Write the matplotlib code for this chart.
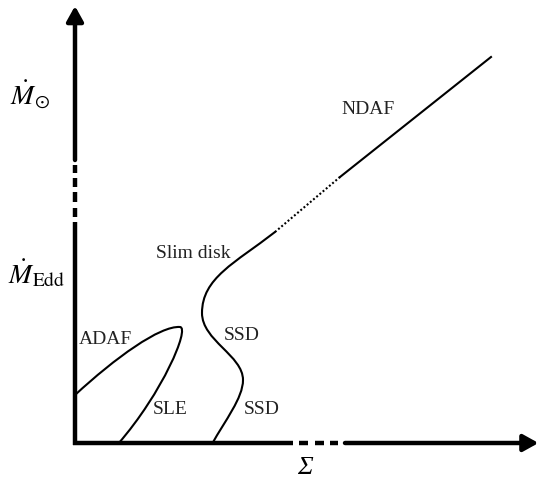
import matplotlib
matplotlib.use("Agg")
import matplotlib.pyplot as plt
from matplotlib.path import Path
from matplotlib.patches import PathPatch

plt.rcParams['mathtext.fontset'] = 'stix'
plt.rcParams['font.family'] = ['Liberation Serif', 'DejaVu Serif']

# --- schematic data (Sigma, Mdot in arbitrary schematic units) ---
# ADAF / SLE branch: cubic Bezier control points
adaf_sle_x = [0.0, 0.8, 1.7, 2.1, 2.3, 1.75, 0.86]
adaf_sle_y = [0.96, 1.7, 2.35, 2.32, 2.3, 1.0, -0.02]
# SSD / slim disk S-curve: cubic Bezier control points
scurve_x = [2.74, 3.0, 3.36, 3.36, 3.36, 2.54, 2.54, 2.54, 3.2, 4.0]
scurve_y = [-0.02, 0.45, 0.9, 1.26, 1.75, 2.05, 2.6, 3.3, 3.6, 4.22]
# high-Mdot straight branch: dotted then solid (NDAF)
dotted_x = [4.0, 5.3]
dotted_y = [4.22, 5.32]
ndaf_x = [5.3, 8.32]
ndaf_y = [5.32, 7.72]

# axis breaks: solid end, dash segments, solid restart
y_solid_end, y_restart = 4.42, 5.66
y_dash_lo = [4.52, 4.82, 5.12, 5.40]
y_dash_hi = [4.70, 5.02, 5.30, 5.56]
x_solid_end, x_restart = 4.36, 5.40
x_dash_lo = [4.48, 4.80, 5.10]
x_dash_hi = [4.66, 4.98, 5.26]
x_max, y_max = 9.27, 8.74

labels = ["ADAF", "SLE", "SSD", "SSD", "Slim disk", "NDAF"]
label_x = [0.6, 1.9, 3.34, 3.74, 2.36, 5.86]
label_y = [2.06, 0.66, 2.16, 0.68, 3.8, 6.66]

fig = plt.figure(figsize=(5.41, 4.84), dpi=100)
ax = fig.add_axes([0, 0, 1, 1])
ax.set_xlim(-1.5, 9.32)
ax.set_ylim(-0.82, 8.86)
ax.axis('off')


def bezier_path(xs, ys):
    verts = list(zip(xs, ys))
    codes = [Path.MOVETO] + [Path.CURVE4] * (len(verts) - 1)
    return Path(verts, codes)


clw = 1.5
ax.add_patch(PathPatch(bezier_path(adaf_sle_x, adaf_sle_y), fill=False,
                       lw=clw, edgecolor='black', capstyle='round'))
ax.add_patch(PathPatch(bezier_path(scurve_x, scurve_y), fill=False,
                       lw=clw, edgecolor='black', capstyle='round'))
ax.plot(dotted_x, dotted_y, color='black', lw=clw,
        linestyle=(0, (1.4 / clw, 1.6 / clw)))
ax.plot(ndaf_x, ndaf_y, color='black', lw=clw)

axlw = 3.2
head = dict(arrowstyle='-|>,head_length=0.45,head_width=0.25',
            mutation_scale=20, lw=axlw, color='black', shrinkA=0, shrinkB=0)
# y axis
ax.plot([0, 0], [-0.04, y_solid_end], color='black', lw=axlw, solid_capstyle='butt')
for lo, hi in zip(y_dash_lo, y_dash_hi):
    ax.plot([0, 0], [lo, hi], color='black', lw=axlw, solid_capstyle='butt')
ax.annotate('', xy=(0, y_max), xytext=(0, y_restart), arrowprops=head)
# x axis
ax.plot([-0.04, x_solid_end], [0, 0], color='black', lw=axlw, solid_capstyle='butt')
for lo, hi in zip(x_dash_lo, x_dash_hi):
    ax.plot([lo, hi], [0, 0], color='black', lw=axlw, solid_capstyle='butt')
ax.annotate('', xy=(x_max, 0), xytext=(x_restart, 0), arrowprops=head)

for t, x, y in zip(labels, label_x, label_y):
    ax.text(x, y, t, fontsize=14, ha='center', va='center', color='#222222')

ax.text(-0.9, 6.96, r'$\dot{M}_{\odot}$', fontsize=20, ha='center', va='center')
ax.text(-0.76, 3.4, r'$\dot{M}_{\mathrm{Edd}}$', fontsize=20, ha='center', va='center')
ax.text(4.6, -0.5, 'Σ', fontsize=19, fontstyle='italic', ha='center', va='center')

fig.savefig('out.png', dpi=100)
